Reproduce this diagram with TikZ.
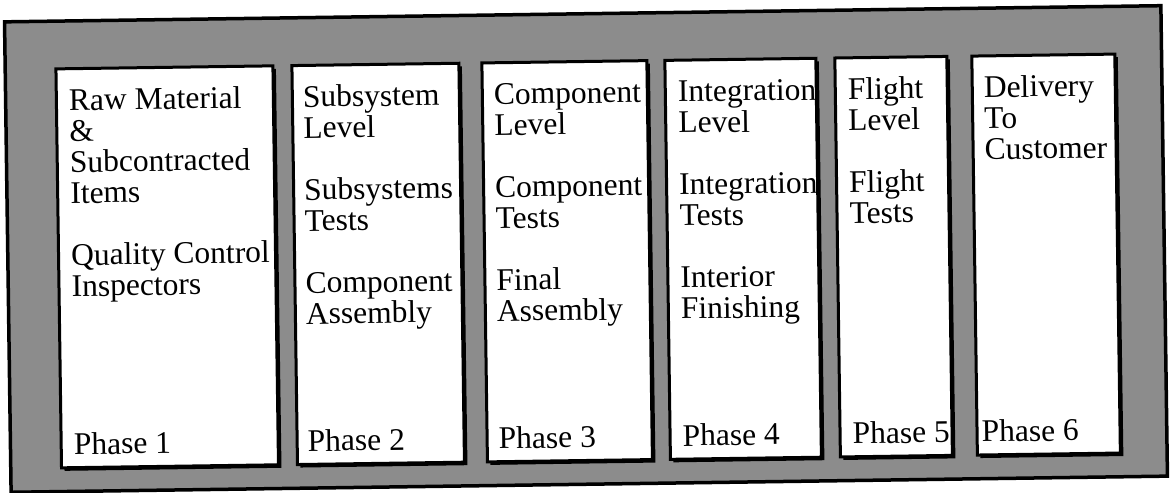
\documentclass[tikz,border=0pt]{standalone}
\usepackage{fontspec}
\setmainfont{Liberation Serif}
\usetikzlibrary{positioning,shadows}
\tikzset{
  outerframe/.style={rectangle, draw=black, line width=3.5pt, fill=black!45,
                     inner sep=0pt},
  phasebox/.style={rectangle, draw=black, line width=3pt, fill=white,
                   inner sep=0pt, minimum height=399pt,
                   drop shadow={shadow xshift=3pt, shadow yshift=-3pt,
                                fill=black, opacity=1}},
  boxtext/.style={align=left, inner sep=0pt,
                  font=\fontsize{31.5}{31}\selectfont},
  phaselabel/.style={inner sep=0pt, font=\fontsize{31.5}{31}\selectfont},
}

\begin{document}
\begin{tikzpicture}[x=1pt, y=-1pt]
    \useasboundingbox (0,0) rectangle (1171,493);
    \begin{scope}[rotate around={0.8:(585,250)}, transform shape]
    \node[outerframe, minimum width=1156.5pt, minimum height=470.5pt]
         (frame) at (586,249) {};

    % the six phases
    \node[phasebox, minimum width=217pt] (P1) at (167,261)  {};
    \node[phasebox, minimum width=167pt] (P2) at (378,261)  {};
    \node[phasebox, minimum width=165pt] (P3) at (567,261)  {};
    \node[phasebox, minimum width=151pt] (P4) at (743,261)  {};
    \node[phasebox, minimum width=112pt] (P5) at (893.5,261) {};
    \node[phasebox, minimum width=143pt] (P6) at (1046,261) {};

    \node[boxtext, below right=20pt and 14pt of P1.north west] (T1)
         {\rule{0pt}{23pt}Raw Material\\ \&\\ Subcontracted\\ Items\\[31pt]
          Quality Control\\ Inspectors};
    \node[boxtext, below right=20pt and 12pt of P2.north west] (T2)
         {\rule{0pt}{23pt}Subsystem\\ Level\\[31pt] Subsystems\\ Tests\\[31pt]
          Component\\ Assembly};
    \node[boxtext, below right=20pt and 13pt of P3.north west] (T3)
         {\rule{0pt}{23pt}Component\\ Level\\[31pt] Component\\ Tests\\[31pt]
          Final\\ Assembly};
    \node[boxtext, below right=20pt and 14pt of P4.north west] (T4)
         {\rule{0pt}{23pt}Integration\\ Level\\[31pt] Integration\\ Tests\\[31pt]
          Interior\\ Finishing};
    \node[boxtext, below right=20pt and 14pt of P5.north west] (T5)
         {\rule{0pt}{23pt}Flight\\ Level\\[31pt] Flight\\ Tests};
    \node[boxtext, below right=20pt and 13pt of P6.north west] (T6)
         {\rule{0pt}{23pt}Delivery\\ To\\ Customer};

    \node[phaselabel, above right=14pt and 14pt of P1.south west] (L1) {Phase 1};
    \node[phaselabel, above right=14pt and 12pt of P2.south west] (L2) {Phase 2};
    \node[phaselabel, above right=14pt and 13pt of P3.south west] (L3) {Phase 3};
    \node[phaselabel, above right=14pt and 14pt of P4.south west] (L4) {Phase 4};
    \node[phaselabel, above right=14pt and 14pt of P5.south west] (L5) {Phase 5};
    \node[phaselabel, above right=14pt and 6pt of P6.south west] (L6) {Phase 6};
    \end{scope}
\end{tikzpicture}
\end{document}
